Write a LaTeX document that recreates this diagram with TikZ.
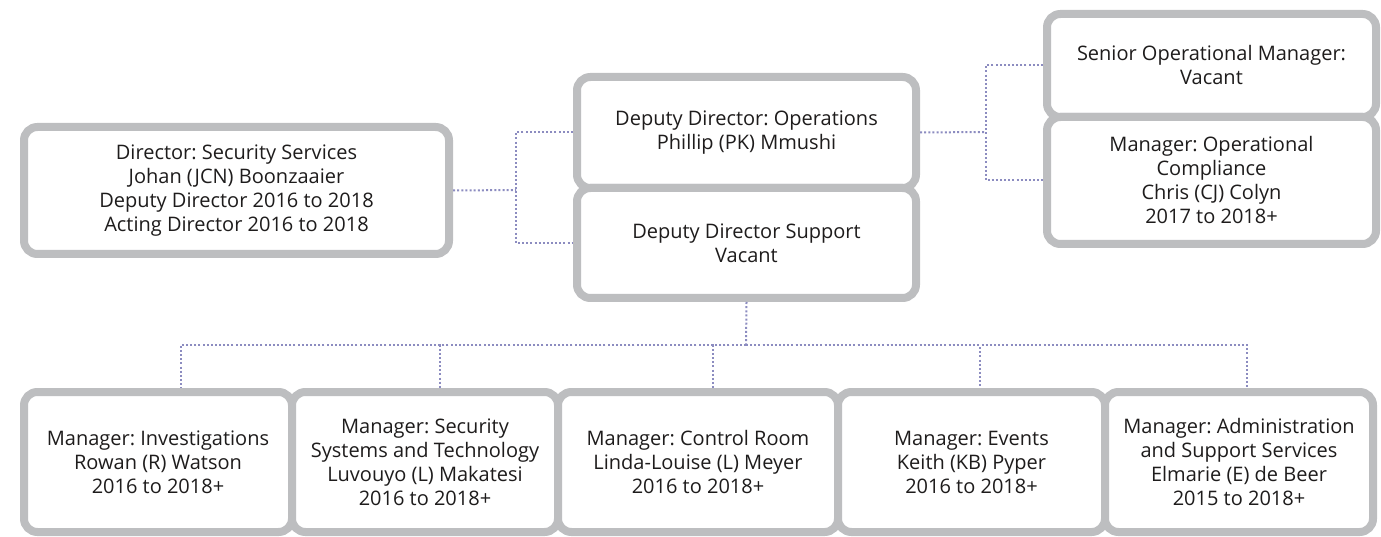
\documentclass[tikz,border=0pt]{standalone}
\usepackage{fontspec}
\setmainfont{Open Sans}
\usepackage{xcolor}
\usepackage{tikz}
\usetikzlibrary{positioning,calc}
\definecolor{boxgray}{RGB}{189, 190, 192}
\definecolor{linkpurple}{RGB}{140, 140, 192}
\definecolor{inkgray}{RGB}{30, 28, 28}
\frenchspacing

\begin{document}
\begin{tikzpicture}[x=0.75pt, y=0.75pt]
\tikzset{
  role/.style={rectangle, rounded corners=10pt, draw=boxgray, line width=6pt, fill=white,
    align=center, font=\fontsize{15}{18}\selectfont, text=inkgray, inner sep=0pt},
  link/.style={draw=linkpurple, line width=1.5pt, dash pattern=on 1.5pt off 1.6pt}
}
\useasboundingbox (0,0) rectangle (1381,536);
% top part
\node[role, minimum width=318.75pt, minimum height=95.25pt] (dir) at (236.5, 345.5)
  {Director: Security Services\\Johan (JCN) Boonzaaier\\Deputy Director 2016 to 2018\\Acting Director 2016 to 2018};
\node[role, minimum width=254.25pt, minimum height=83.25pt] (ops) at (746.5, 403.5)
  {Deputy Director: Operations\\Phillip (PK) Mmushi};
\node[role, minimum width=254.25pt, minimum height=82.5pt] (sup) at (746.5, 293)
  {Deputy Director Support\\Vacant};
\node[role, minimum width=246.75pt, minimum height=77.25pt] (sen) at (1211.5, 470.5)
  {Senior Operational Manager:\\Vacant};
\node[role, minimum width=246.75pt, minimum height=95.25pt] (comp) at (1211.5, 355.5)
  {Manager: Operational\\Compliance\\Chris (CJ) Colyn\\2017 to 2018+};
% managers row
\node[role, minimum width=201pt, minimum height=105pt] (m1) at (158, 74)
  {Manager: Investigations\\Rowan (R) Watson\\2016 to 2018+};
\node[role, minimum width=199.5pt, minimum height=105pt] (m2) at (425, 74)
  {Manager: Security\\Systems and Technology\\Luvouyo (L) Makatesi\\2016 to 2018+};
\node[role, minimum width=210pt, minimum height=105pt] (m3) at (698, 74)
  {Manager: Control Room\\Linda-Louise (L) Meyer\\2016 to 2018+};
\node[role, minimum width=200.25pt, minimum height=105pt] (m4) at (971.5, 74)
  {Manager: Events\\Keith (KB) Pyper\\2016 to 2018+};
\node[role, minimum width=201pt, minimum height=105pt] (m5) at (1239, 74)
  {Manager: Administration\\and Support Services\\Elmarie (E) de Beer\\2015 to 2018+};
% connectors
\coordinate (lj) at (516, 346);
\coordinate (rj) at (986, 404);
\coordinate (bus) at (746, 191);
\draw[link] (dir.east) -- (lj);
\draw[link] (ops.west) -| (lj) |- (sup.west);
\draw[link] (ops.east) -- (rj);
\draw[link] (sen.west) -| (rj) |- (comp.west);
\draw[link] (sup.south) -- (bus);
\foreach \n/\dx in {m1/17, m2/11, m3/11, m4/6, m5/6}
  \draw[link] (bus) -| ([xshift=\dx pt]\n.north);
\end{tikzpicture}
\end{document}
